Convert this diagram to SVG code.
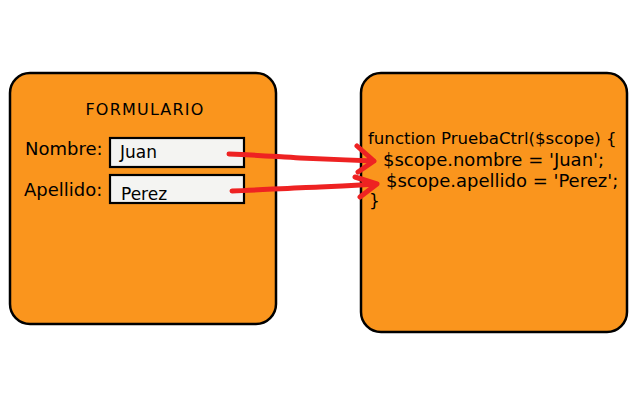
<svg xmlns="http://www.w3.org/2000/svg" width="640" height="400" viewBox="0 0 640 400">
<style>
.box{fill:#fa951d;stroke:#000;stroke-width:2.5}
.inp{fill:#f4f4f2;stroke:#000;stroke-width:2.2}
text{font-family:"DejaVu Sans",sans-serif;fill:#000}
.arr{fill:none;stroke:#ee2222;stroke-width:5;stroke-linecap:round;stroke-linejoin:round}
</style>
<rect width="640" height="400" fill="#fff"/>
<g id="formulario">
<rect class="box" x="10" y="73" width="266" height="251" rx="20"/>
<text x="145" y="115" font-size="16" text-anchor="middle" letter-spacing="1.2">FORMULARIO</text>
<text x="25" y="155" font-size="18">Nombre:</text>
<text x="24" y="196" font-size="18">Apellido:</text>
</g>
<g id="input-nombre">
<rect class="inp" x="110" y="138" width="134" height="29"/>
<text x="120" y="158" font-size="17">Juan</text>
</g>
<g id="input-apellido">
<rect class="inp" x="110" y="175" width="134" height="28"/>
<text x="121" y="200" font-size="17">Perez</text>
</g>
<g id="controller">
<rect class="box" x="361" y="73" width="266" height="259" rx="20"/>
<text x="368" y="144" font-size="16.6">function PruebaCtrl($scope) {</text>
<text x="383" y="166" font-size="18">$scope.nombre = 'Juan';</text>
<text x="386" y="187" font-size="18">$scope.apellido = 'Perez';</text>
<text x="369" y="207" font-size="17">}</text>
</g>
<g id="connectors">
<path class="arr" d="M229 154 C260 155 280 157 300 158 S350 160 374 161 M357 146 L374 161 L358 172"/>
<path class="arr" d="M232 191 C260 190 290 188 320 187 S360 185 377 184 M355 177 L377 184 L360 197"/>
</g>
</svg>
